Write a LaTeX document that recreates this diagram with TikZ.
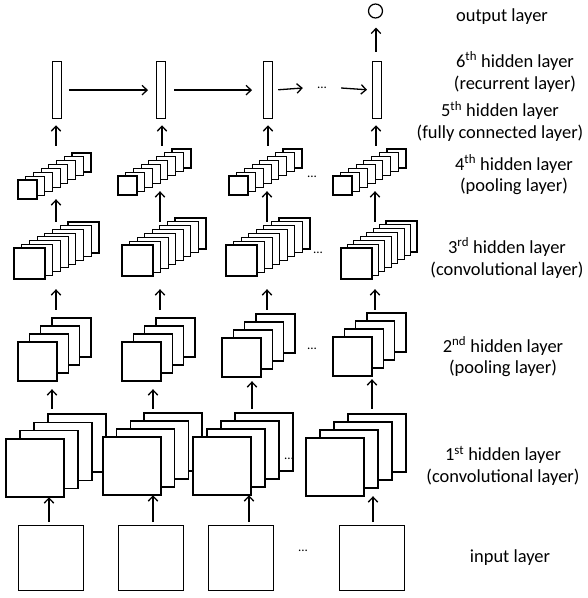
\documentclass[tikz,border=0pt]{standalone}
\usepackage{fontspec}
\setmainfont{Carlito}
\usetikzlibrary{arrows.meta,fit}
\tikzset{
  sq/.style={draw=black,fill=white,line width=1.25bp},
  arr/.style={line width=1.3bp,-{Straight Barb[length=5bp,width=9.5bp,line width=1.3bp]}},
  inbox/.style={draw=black,fill=white,line width=1.25bp,minimum width=65bp,minimum height=65bp,inner sep=0pt,anchor=north west},
  bar/.style={draw=black,fill=white,line width=1.25bp,minimum width=9bp,minimum height=57bp,inner sep=0pt,anchor=north west},
  dots/.style={font=\fontsize{13}{15}\selectfont,inner sep=0pt,minimum width=38bp},
  lbl/.style={align=center,font=\fontsize{18.5}{22}\selectfont,inner sep=0pt}
}
\newcommand\mystack[7]{%
  \pgfmathtruncatemacro\nlast{#5-1}%
  \foreach \i in {\nlast,...,0}{%
    \pgfmathsetmacro\px{#2+\i*(#6-#2)/\nlast}%
    \pgfmathsetmacro\py{#3+\i*(#7-#3)/\nlast}%
    \draw[sq] (\px,\py) rectangle ++(#4,#4);
  }%
  \node[fit={(#2,#3+#4) (#6+#4,#7)},inner sep=0pt] (#1) {};%
}
\begin{document}
\begin{tikzpicture}[x=1bp,y=-1bp]
\useasboundingbox (0,0) rectangle (588,598);
% input layer
\node[inbox] (in1) at (18,525) {};
\node[inbox] (in2) at (118,525) {};
\node[inbox] (in3) at (208,525) {};
\node[inbox] (in4) at (339,525) {};
\node[dots] (d0) at (303,551) {...};
% 1st hidden layer
\mystack{La1}{6}{439}{58}{4}{48}{414}
\mystack{La2}{103}{437}{58}{4}{144}{413}
\mystack{La3}{193}{437}{58}{4}{235}{413}
\mystack{La4}{306}{438}{58}{4}{348}{414}
\node[dots] (d1) at (289,459) {...};
% 2nd hidden layer
\mystack{Lb1}{18}{342}{39}{4}{52}{318}
\mystack{Lb2}{122}{342}{39}{4}{156}{318}
\mystack{Lb3}{222}{338}{39}{4}{256}{314}
\mystack{Lb4}{333}{337}{39}{4}{367}{313}
\node[dots] (d2) at (312,349) {...};
% 3rd hidden layer
\mystack{Lc1}{14}{248}{31}{8}{68}{222}
\mystack{Lc2}{122}{245}{31}{8}{175}{218}
\mystack{Lc3}{226}{245}{31}{8}{279}{218}
\mystack{Lc4}{341}{248}{31}{8}{386}{221}
\node[dots] (d3) at (318,253) {...};
% 4th hidden layer
\mystack{Ld1}{18}{180}{19}{8}{72}{153}
\mystack{Ld2}{118}{176}{19}{8}{172}{149}
\mystack{Ld3}{229}{176}{19}{8}{283}{149}
\mystack{Ld4}{333}{176}{19}{8}{387}{149}
\node[dots] (d4) at (312,177) {...};
% 5th/6th hidden layer
\node[bar] (h1) at (52,61) {};
\node[bar] (h2) at (156,61) {};
\node[bar] (h3) at (263,61) {};
\node[bar] (h4) at (372,61) {};
\node[dots] (d5) at (322,88) {...};
% output
\node[draw=black,line width=1.25bp,circle,minimum size=14bp,inner sep=0pt] (out) at (375.5,11) {};
% vertical arrows
\draw[arr,shorten <=3bp] (in1.north -| 49,0) -- (La1.south -| 49,0);
\draw[arr,shorten <=3bp] (in2.north -| 153,0) -- (La2.south -| 153,0);
\draw[arr,shorten <=3bp] (in3.north -| 249,0) -- (La3.south -| 249,0);
\draw[arr,shorten <=3bp] (in4.north -| 373,0) -- (La4.south -| 373,0);
\draw[arr,shorten <=5bp,shorten >=8bp] (La1.north -| 52,0) -- (Lb1.south -| 52,0);
\draw[arr,shorten <=4bp,shorten >=8bp] (La2.north -| 153,0) -- (Lb2.south -| 153,0);
\draw[arr,shorten <=4bp,shorten >=4bp] (La3.north -| 252,0) -- (Lb3.south -| 252,0);
\draw[arr,shorten <=5bp,shorten >=3bp] (La4.north -| 372,0) -- (Lb4.south -| 372,0);
\draw[arr,shorten <=8bp,shorten >=10bp] (Lb1.north -| 56,0) -- (Lc1.south -| 56,0);
\draw[arr,shorten <=8bp,shorten >=13bp] (Lb2.north -| 160,0) -- (Lc2.south -| 160,0);
\draw[arr,shorten <=4bp,shorten >=13bp] (Lb3.north -| 267,0) -- (Lc3.south -| 267,0);
\draw[arr,shorten <=3bp,shorten >=10bp] (Lb4.north -| 375,0) -- (Lc4.south -| 375,0);
\draw[arr] (Lc1.north -| 56,0) -- (Ld1.south -| 56,0);
\draw[arr,shorten <=-4bp,shorten >=-4bp] (Lc2.north -| 160,0) -- (Ld2.south -| 160,0);
\draw[arr,shorten <=-4bp,shorten >=-4bp] (Lc3.north -| 267,0) -- (Ld3.south -| 267,0);
\draw[arr,shorten <=-1bp,shorten >=-4bp] (Lc4.north -| 375,0) -- (Ld4.south -| 375,0);
\draw[arr,shorten <=7bp,shorten >=6bp] (Ld1.north -| 56,0) -- (h1.south -| 56,0);
\draw[arr,shorten <=3bp,shorten >=6bp] (Ld2.north -| 162,0) -- (h2.south -| 162,0);
\draw[arr,shorten <=3bp,shorten >=6bp] (Ld3.north -| 268,0) -- (h3.south -| 268,0);
\draw[arr,shorten <=3bp,shorten >=6bp] (Ld4.north -| 376,0) -- (h4.south -| 376,0);
\draw[arr,shorten <=9bp,shorten >=9bp] (h4.north -| 376,0) -- (out.south -| 376,0);
% horizontal arrows
\draw[arr,shorten <=7bp,shorten >=8bp] (h1.east) -- (h2.west);
\draw[arr,shorten <=8bp,shorten >=11bp] (h2.east) -- (h3.west);
\draw[arr,shorten <=5bp] (h3.east) -- (d5.west);
\draw[arr,shorten >=5bp] (d5.east) -- (h4.west);
% labels
\node[lbl] (tout) at (502,17) {output layer};
\node[lbl] (t6) at (515,72) {6\textsuperscript{th} hidden layer\\(recurrent layer)};
\node[lbl] (t5) at (500,121.5) {5\textsuperscript{th} hidden layer\\(fully connected layer)};
\node[lbl] (t4) at (514,175) {4\textsuperscript{th} hidden layer\\(pooling layer)};
\node[lbl] (t3) at (507,258) {3\textsuperscript{rd} hidden layer\\(convolutional layer)};
\node[lbl] (t2) at (503,357) {2\textsuperscript{nd} hidden layer\\(pooling layer)};
\node[lbl] (t1) at (503,466) {1\textsuperscript{st} hidden layer\\(convolutional layer)};
\node[lbl] (tin) at (510,558) {input layer};
\end{tikzpicture}
\end{document}
